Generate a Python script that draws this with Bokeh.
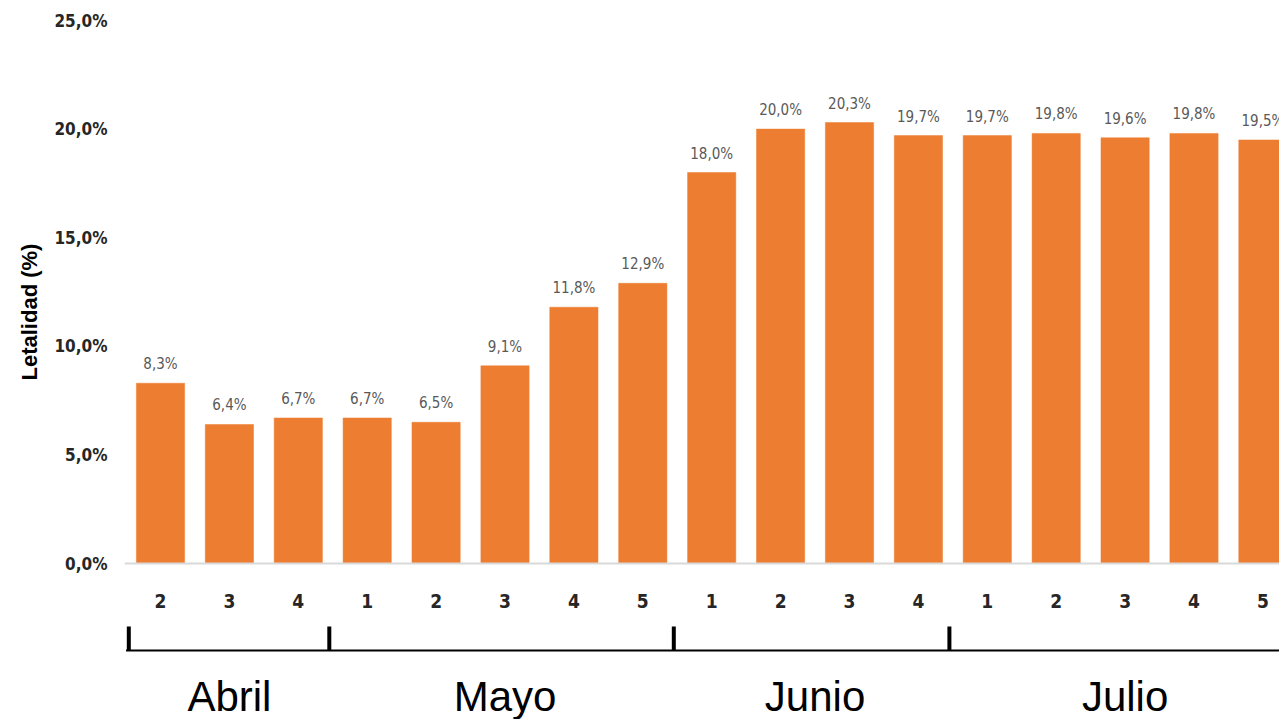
import math
from bokeh.plotting import figure
from bokeh.models import Range1d, FixedTicker, CustomJSTickFormatter, Span, Title, ColumnDataSource
from bokeh.core.properties import value
from bokeh.embed import file_html
from bokeh.resources import INLINE

# ---------------- data ----------------
weeks = ["2", "3", "4", "1", "2", "3", "4", "5", "1", "2", "3", "4", "1", "2", "3", "4", "5"]
letalidad = [8.3, 6.4, 6.7, 6.7, 6.5, 9.1, 11.8, 12.9, 18.0, 20.0, 20.3, 19.7, 19.7, 19.8, 19.6, 19.8, 19.5]
months = ["Abril", "Mayo", "Junio", "Julio"]
weeks_per_month = [3, 5, 4, 5]
y_ticks = [0, 5, 10, 15, 20, 25]

# ---------------- layout ----------------
W, H = 1279, 719
top_border = 20
left_border = 124
px_per_unit = 21.72          # vertical pixels per 1 %
step_px = 68.9               # horizontal pixels per category
first_center_px = 160        # canvas x of first bar centre
y_max = 25
y_min = y_max - (H - top_border) / px_per_unit
x_start = -(first_center_px - left_border) / step_px
x_end = x_start + (W - left_border) / step_px

def px_below_zero(px):
    return -px / px_per_unit

ORANGE = "#ED7D31"
NARROW = "DejaVu Sans Condensed"

x = list(range(len(letalidad)))

p = figure(width=W, height=H, output_backend="svg", toolbar_location=None,
           x_range=Range1d(x_start, x_end), y_range=Range1d(y_min, y_max),
           x_axis_location=None, min_border_left=left_border, min_border_right=0,
           min_border_top=top_border, min_border_bottom=0)
p.outline_line_color = None
p.xgrid.visible = False
p.ygrid.visible = False
p.background_fill_color = "white"
p.border_fill_color = "white"

# y axis
ax = p.yaxis[0]
ax.ticker = FixedTicker(ticks=y_ticks)
ax.formatter = CustomJSTickFormatter(code="return tick.toFixed(1).replace('.', ',') + '%';")
ax.axis_line_color = None
ax.major_tick_line_color = None
ax.minor_tick_line_color = None
ax.major_tick_out = 0
ax.major_tick_in = 0
ax.major_label_standoff = 17
ax.major_label_text_font = NARROW
ax.major_label_text_font_style = "bold"
ax.major_label_text_font_size = "17px"
ax.major_label_text_color = "#262626"

# y axis title
p.add_layout(Title(text="Letalidad (%)", align="left", offset=339, standoff=20,
                   text_font="Liberation Sans", text_font_style="bold",
                   text_font_size="22px", text_color="black"), "left")

# baseline
p.add_layout(Span(location=0, dimension="width", line_color="#d9d9d9", line_width=2))

# bars
src = ColumnDataSource(dict(
    x=x, top=letalidad,
    lab=[f"{v:.1f}".replace(".", ",") + "%" for v in letalidad],
    ly=[v + 19 / px_per_unit for v in letalidad],
))
p.vbar(x="x", top="top", bottom=0, width=0.70, source=src,
       fill_color=ORANGE, line_color=ORANGE, line_width=0.5)

# data labels
p.text(x="x", y="ly", text="lab", source=src, text_align="center",
       text_baseline="alphabetic", text_font=value(NARROW),
       text_font_size="15px", text_color="#595959")

# week labels
wsrc = ColumnDataSource(dict(x=x, y=[px_below_zero(37)] * len(x), t=weeks))
p.text(x="x", y="y", text="t", source=wsrc, text_align="center", text_baseline="middle",
       text_font=value(NARROW), text_font_style="bold", text_font_size="19px",
       text_color="#262626")

# month bracket
bounds = [-0.5]
for n in weeks_per_month:
    bounds.append(bounds[-1] + n)
tick_x = [bounds[0] + 0.04] + [b - 0.05 for b in bounds[1:-1]]
line_y = px_below_zero(87)
tick_top = px_below_zero(63)
p.segment(x0=[bounds[0]], y0=[line_y], x1=[bounds[-1] + 1], y1=[line_y],
          line_color="black", line_width=2)
p.segment(x0=tick_x, y0=[tick_top] * len(tick_x),
          x1=tick_x, y1=[line_y] * len(tick_x),
          line_color="black", line_width=4)

# month labels
mx = [(bounds[i] + bounds[i + 1]) / 2 for i in range(len(months))]
msrc = ColumnDataSource(dict(x=mx, y=[px_below_zero(133)] * len(months), t=months))
p.text(x="x", y="y", text="t", source=msrc, text_align="center", text_baseline="middle",
       text_font=value("Liberation Sans"), text_font_size="42px", text_color="black")

open("out.html", "w").write(file_html(p, INLINE))
